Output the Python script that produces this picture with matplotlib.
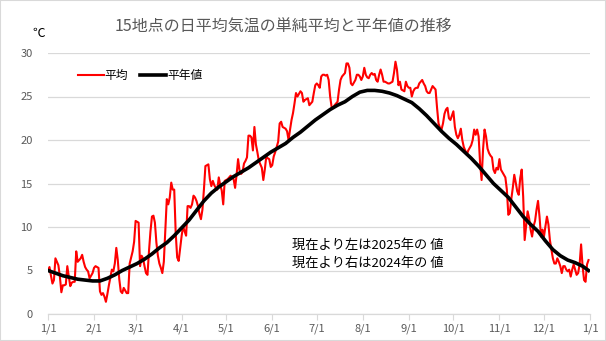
import matplotlib
matplotlib.use("Agg")
import matplotlib.pyplot as plt
from matplotlib.patches import Rectangle

plt.rcParams['font.family'] = ['Noto Sans CJK JP', 'DejaVu Sans']

# Month start positions (day index from 1/1) and their labels
month_starts = [0, 31, 59, 90, 120, 151, 181, 212, 243, 273, 304, 334, 365]
month_labels = ["1/1", "2/1", "3/1", "4/1", "5/1", "6/1", "7/1", "8/1",
                "9/1", "10/1", "11/1", "12/1", "1/1"]

# Daily mean of 15 stations (°C), by month
jan = [5.0, 5.4, 4.4, 3.5, 3.9, 6.4, 6.0, 5.6, 4.3, 2.5, 3.3, 3.3, 3.4, 5.5, 4.3, 3.2,
       3.6, 3.7, 3.7, 7.2, 6.0, 6.2, 6.4, 6.8, 6.0, 5.4, 5.1, 4.9, 4.1, 4.4, 4.7]
feb = [5.3, 5.5, 5.4, 5.3, 2.6, 2.2, 2.4, 2.0, 1.4, 2.3, 3.3, 4.2, 5.1, 4.9, 5.8, 7.6,
       6.2, 4.0, 2.6, 2.4, 3.0, 2.7, 2.4, 2.4, 5.8, 6.5, 7.2, 8.3]
mar = [10.7, 10.6, 10.5, 5.5, 6.7, 6.4, 5.5, 4.7, 4.5, 7.2, 9.5, 11.2, 11.3, 10.5, 8.2,
       6.7, 5.8, 5.3, 4.7, 6.0, 9.5, 13.2, 12.6, 13.4, 15.1, 14.3, 14.3, 9.3, 6.5, 6.1, 7.5]
apr = [9.0, 10.1, 9.5, 9.0, 12.4, 12.4, 12.2, 12.6, 13.6, 13.4, 13.0, 12.4, 11.5, 10.9,
       12.0, 14.3, 17.0, 17.1, 17.2, 15.5, 14.7, 15.3, 14.8, 14.5, 14.3, 15.7, 14.8, 14.2,
       12.6, 15.3]
may = [15.4, 15.5, 15.7, 15.9, 15.7, 15.5, 14.5, 16.0, 17.8, 16.5, 16.1, 16.3, 17.3, 17.6,
       18.0, 20.5, 20.5, 20.3, 18.8, 21.5, 19.5, 18.6, 17.6, 17.2, 16.8, 15.4, 16.6, 18.1,
       17.9, 17.8, 16.9]
jun = [17.1, 18.1, 18.6, 19.2, 19.8, 21.9, 22.1, 21.5, 21.4, 21.3, 21.0, 20.0, 21.2, 22.3,
       23.1, 24.2, 25.4, 25.0, 25.3, 25.6, 25.4, 24.4, 24.6, 24.7, 24.8, 24.0, 24.2, 24.4,
       25.4, 26.3]
jul = [26.5, 26.3, 26.0, 27.3, 27.5, 27.5, 27.4, 27.5, 26.9, 25.0, 23.8, 23.7, 24.0, 24.2,
       24.4, 25.8, 26.9, 27.3, 27.5, 27.7, 28.8, 28.8, 28.3, 26.5, 26.3, 26.6, 26.9, 27.5,
       27.5, 27.3, 26.9]
aug = [27.3, 28.3, 27.5, 27.2, 27.1, 27.5, 27.7, 27.5, 27.6, 26.9, 26.7, 27.5, 28.1, 27.5,
       26.7, 26.7, 26.6, 26.5, 26.5, 26.6, 26.7, 27.7, 29.0, 28.1, 26.3, 26.7, 25.8, 25.7,
       25.6, 26.7, 26.2]
sep = [26.0, 26.0, 25.0, 25.6, 25.9, 26.0, 26.0, 26.5, 26.7, 26.9, 26.5, 26.2, 25.6, 25.4,
       25.4, 25.8, 26.2, 26.0, 25.8, 23.7, 21.9, 21.4, 21.2, 21.9, 23.0, 23.5, 23.7, 22.5,
       22.3, 22.8]
oct_ = [23.3, 21.5, 20.6, 20.2, 20.6, 21.3, 20.0, 19.2, 18.8, 18.3, 18.8, 19.1, 19.4, 20.0,
        21.2, 20.6, 21.2, 20.4, 17.3, 15.4, 19.0, 21.2, 20.4, 19.0, 18.5, 18.2, 18.0, 16.6,
        16.2, 16.8, 16.6]
nov = [17.8, 16.6, 16.3, 16.0, 15.7, 14.3, 11.4, 11.6, 13.2, 14.5, 16.0, 15.1, 14.1, 13.7,
       15.6, 16.6, 13.5, 8.5, 10.1, 11.8, 11.0, 9.7, 8.9, 10.1, 10.7, 12.0, 13.0, 11.2, 8.9,
       9.7]
dec = [8.9, 10.1, 11.2, 10.3, 8.5, 7.4, 6.4, 5.8, 5.8, 6.4, 6.0, 5.5, 4.7, 5.5, 5.5, 5.1,
       4.9, 5.1, 4.3, 5.1, 5.7, 5.1, 4.5, 4.7, 5.7, 8.0, 5.5, 3.9, 3.7, 5.7, 6.2]

daily_mean = jan + feb + mar + apr + may + jun + jul + aug + sep + oct_ + nov + dec
daily_days = list(range(len(daily_mean)))

# Climatological normal (°C) every 5 days
normal_days = [0, 5, 10, 15, 20, 25, 30, 35, 40, 45, 50, 55, 60, 65, 70, 75, 80, 85, 90,
               95, 100, 105, 110, 115, 120, 125, 130, 135, 140, 145, 150, 155, 160, 165,
               170, 175, 180, 185, 190, 195, 200, 205, 210, 215, 220, 225, 230, 235, 240,
               245, 250, 255, 260, 265, 270, 275, 280, 285, 290, 295, 300, 305, 310, 315,
               320, 325, 330, 335, 340, 345, 350, 355, 360, 364]
normal_vals = [5.0, 4.7, 4.4, 4.2, 4.0, 3.9, 3.8, 3.8, 4.1, 4.5, 5.0, 5.4, 5.8, 6.3, 6.9,
               7.6, 8.2, 9.0, 9.9, 10.8, 11.9, 13.0, 13.9, 14.6, 15.2, 15.8, 16.3, 16.8,
               17.4, 18.0, 18.6, 19.1, 19.6, 20.3, 20.9, 21.6, 22.3, 22.9, 23.5, 24.0, 24.4,
               25.0, 25.5, 25.7, 25.7, 25.6, 25.4, 25.1, 24.7, 24.3, 23.6, 22.8, 21.9, 21.0,
               20.2, 19.5, 18.7, 17.9, 17.0, 16.0, 15.0, 14.2, 13.4, 12.3, 11.2, 10.3, 9.5,
               8.4, 7.4, 6.7, 6.2, 5.9, 5.5, 5.0]

y_ticks = [0, 5, 10, 15, 20, 25, 30]

W, H = 606, 341
fig = plt.figure(figsize=(W / 100, H / 100), dpi=100)
ax = fig.add_axes([48 / W, 1 - 314 / H, (590 - 48) / W, (314 - 53) / H])

ax.plot(daily_days, daily_mean, color="#ff0000", lw=1.5, label="平均", zorder=3)
ax.plot(normal_days, normal_vals, color="#000000", lw=2.6, label="平年値", zorder=4)

ax.set_xlim(0, 365)
ax.set_ylim(0, 30)
ax.set_xticks(month_starts)
ax.set_xticklabels(month_labels)
ax.set_yticks(y_ticks)
ax.yaxis.grid(True, color="#d9d9d9", lw=0.9)
ax.set_axisbelow(True)
for s in ["top", "right", "left"]:
    ax.spines[s].set_visible(False)
ax.spines["bottom"].set_color("#d9d9d9")
ax.spines["bottom"].set_linewidth(0.9)
ax.tick_params(axis="x", length=4, color="#d9d9d9", labelsize=8, labelcolor="#595959", pad=3)
ax.tick_params(axis="y", length=0, labelsize=8, labelcolor="#595959", pad=11)

fig.text(283 / W, 1 - 27 / H, "15地点の日平均気温の単純平均と平年値の推移",
         ha="center", va="center", fontsize=11.5, color="#595959")
fig.text(39 / W, 1 - 33 / H, "℃", ha="center", va="center", fontsize=9, color="#000000")

ax.legend(loc="upper left", bbox_to_anchor=(0.035, 0.98), ncol=2, frameon=False,
          fontsize=8.5, handlelength=2.2, handletextpad=0.1, columnspacing=1.0)

fig.text(292 / W, 1 - 245 / H, "現在より左は2025年の 値", ha="left", va="center",
         fontsize=9.5, color="#000000")
fig.text(292 / W, 1 - 263 / H, "現在より右は2024年の 値", ha="left", va="center",
         fontsize=9.5, color="#000000")

fig.patches.append(Rectangle((0, 0), 1, 1, transform=fig.transFigure, fill=False,
                             edgecolor="#d9d9d9", lw=1.5))

fig.savefig("out.png", dpi=100)
